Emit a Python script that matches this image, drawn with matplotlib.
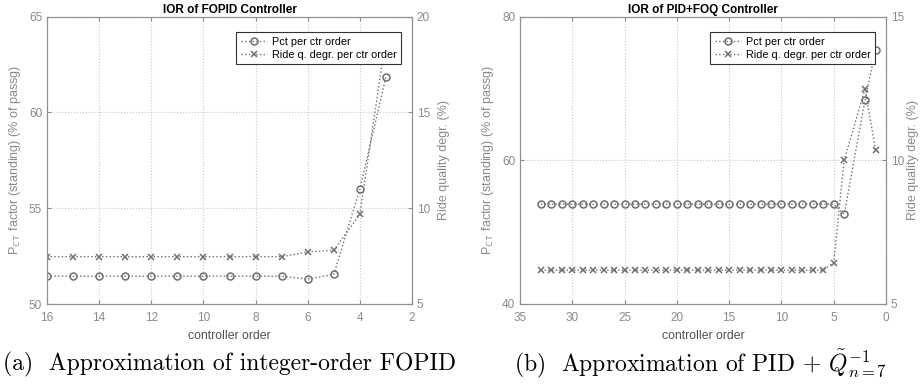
import matplotlib
matplotlib.use("Agg")
import matplotlib.pyplot as plt

plt.rcParams['font.family'] = ['Liberation Sans', 'DejaVu Sans']
plt.rcParams['mathtext.fontset'] = 'cm'

# (a) FOPID
order_a = [16, 15, 14, 13, 12, 11, 10, 9, 8, 7, 6, 5, 4, 3]
pct_a = [51.45, 51.45, 51.45, 51.45, 51.45, 51.45, 51.45, 51.45, 51.45, 51.45,
         51.3, 51.55, 56.0, 61.85]
ride_a = [7.47, 7.47, 7.47, 7.47, 7.47, 7.47, 7.47, 7.47, 7.47, 7.47,
          7.72, 7.8, 9.68, 18.9]

# (b) PID+FOQ
order_b = [33, 32, 31, 30, 29, 28, 27, 26, 25, 24, 23, 22, 21, 20, 19, 18, 17,
           16, 15, 14, 13, 12, 11, 10, 9, 8, 7, 6, 5, 4, 2, 1]
pct_b = [53.9, 53.9, 53.9, 53.9, 53.9, 53.9, 53.9, 53.9, 53.9, 53.9, 53.9,
         53.9, 53.9, 53.9, 53.9, 53.9, 53.9, 53.9, 53.9, 53.9, 53.9, 53.9,
         53.9, 53.9, 53.9, 53.9, 53.9, 53.9, 53.9, 52.5, 68.4, 75.3]
ride_b = [6.18, 6.18, 6.18, 6.18, 6.18, 6.18, 6.18, 6.18, 6.18, 6.18, 6.18,
          6.18, 6.18, 6.18, 6.18, 6.18, 6.18, 6.18, 6.18, 6.18, 6.18, 6.18,
          6.18, 6.18, 6.18, 6.18, 6.18, 6.18, 6.44, 10.0, 12.5, 10.35]

gray = '#6e6e6e'
txtgray = '#8a8a8a'

fig = plt.figure(figsize=(9.22, 3.87), dpi=100)
W, H = 922.0, 387.0


def panel(rect, x, pct, ride, xlim, xticks, ylim1, yticks1, ylim2, yticks2,
          title, caption, cap_x, rpad):
    ax = fig.add_axes([rect[0] / W, 1 - rect[3] / H, (rect[2] - rect[0]) / W,
                       (rect[3] - rect[1]) / H])
    ax2 = ax.twinx()
    l1, = ax.plot(x, pct, linestyle=':', color=gray, marker='o', mfc='none',
                  mec=gray, ms=5, mew=1.1, lw=1.0, label='Pct per ctr order')
    l2, = ax2.plot(x, ride, linestyle=':', color=gray, marker='x', mec=gray,
                   ms=5, mew=1.1, lw=1.0, label='Ride q. degr. per ctr order')
    ax.set_xlim(*xlim)
    ax.set_xticks(xticks)
    ax.set_ylim(*ylim1)
    ax.set_yticks(yticks1)
    ax2.set_ylim(*ylim2)
    ax2.set_yticks(yticks2)
    ax.grid(True, linestyle=':', color='#c8c8c8', lw=0.8)
    for a in (ax, ax2):
        for s in a.spines.values():
            s.set_color('#909090')
        a.tick_params(direction='in', colors=txtgray, labelsize=8.5, length=3)
    ax.tick_params(axis='x', top=True, pad=6)
    ax.set_xlabel('controller order', fontsize=8.8, color='#505050', labelpad=4)
    ax.set_ylabel(r'P$_{\mathsf{CT}}$ factor (standing) (% of passg)',
                  fontsize=9, color=txtgray)
    ax2.set_ylabel('Ride quality degr. (%)', fontsize=9, color=txtgray,
                   labelpad=rpad)
    ax.set_title(title, fontsize=8.5, fontweight='bold', pad=3)
    leg = ax2.legend([l1, l2], [l1.get_label(), l2.get_label()],
                     loc='upper right', fontsize=7.8, fancybox=False,
                     framealpha=1, edgecolor='#333333', borderpad=0.4,
                     handlelength=2.4, labelspacing=0.3, handletextpad=0.5,
                     bbox_to_anchor=(0.985, 0.965))
    leg.get_frame().set_linewidth(0.8)
    fig.text(cap_x / W, 1 - 364 / H, caption, family='cmr10', fontsize=17,
             ha='center', va='center')


panel((47, 16.7, 412, 304), order_a, pct_a, ride_a, (16, 2),
      [16, 14, 12, 10, 8, 6, 4, 2], (50, 65), [50, 55, 60, 65],
      (5, 20), [5, 10, 15, 20], 'IOR of FOPID Controller',
      '(a)  Approximation of integer-order FOPID', 230, 6)

panel((520, 16.7, 886, 304), order_b, pct_b, ride_b, (35, 0),
      [35, 30, 25, 20, 15, 10, 5, 0], (40, 80), [40, 60, 80],
      (5, 15), [5, 10, 15], 'IOR of PID+FOQ Controller',
      r'(b)  Approximation of PID + $\tilde{Q}^{-1}_{n=7}$', 700, 2)

fig.savefig('out.png', dpi=100)
